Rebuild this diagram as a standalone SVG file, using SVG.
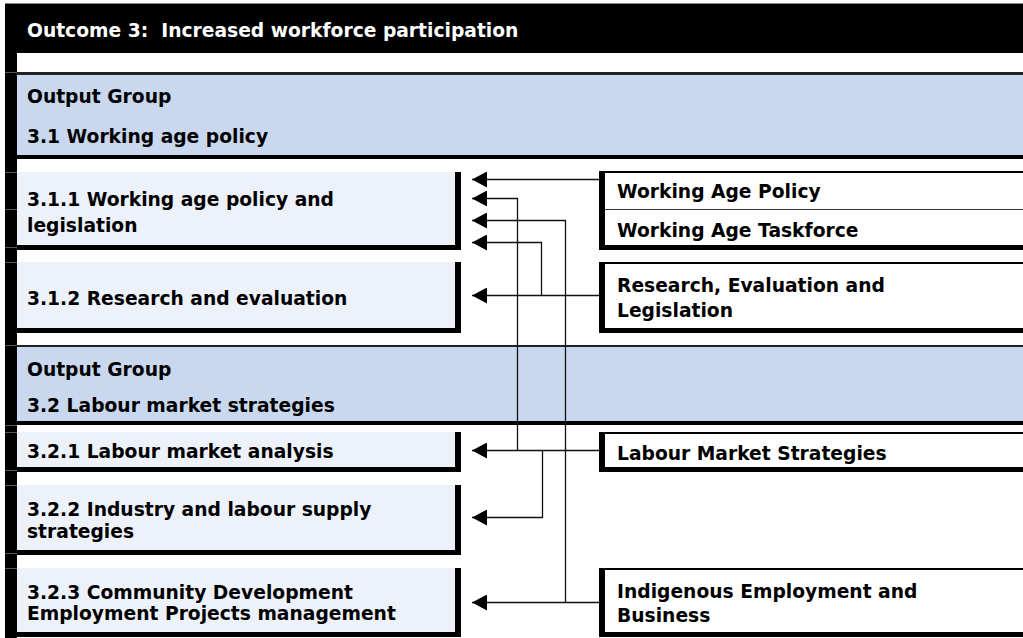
<svg xmlns="http://www.w3.org/2000/svg" width="1023" height="638" viewBox="0 0 1023 638">
  <style>
    text { font-family: "DejaVu Sans", Verdana, sans-serif; font-weight: bold; font-size: 18.7px; fill: #000; }
    .hdr text { fill: #fff; }
    .band { fill: #c9d8ee; }
    .cell { fill: #edf2fa; }
    .ink { fill: #000; }
    .rule { stroke: #555; stroke-width: 1; }
    .conn { fill: none; stroke: #111; stroke-width: 1.3; marker-end: url(#head); }
    .plain { fill: none; stroke: #111; stroke-width: 1.3; }
  </style>
  <defs>
    <marker id="head" viewBox="0 0 15 16" markerWidth="15" markerHeight="16" refX="15" refY="8" orient="auto" markerUnits="userSpaceOnUse">
      <path d="M0,0 L15,8 L0,16 z" fill="#000"/>
    </marker>
  </defs>

  <rect width="1023" height="638" fill="#fff"/>

  <!-- outer frame: top rule and left black bar with row ticks -->
  <g id="frame">
    <rect x="5" y="3" width="1018" height="1" fill="#888"/>
    <rect x="5" y="4" width="12" height="634" class="ink"/>
    <g class="rule">
      <line x1="5" y1="18.5" x2="12" y2="18.5"/>
      <line x1="5" y1="72.5" x2="17" y2="72.5"/>
      <line x1="5" y1="172.5" x2="17" y2="172.5"/>
      <line x1="5" y1="209.5" x2="17" y2="209.5"/>
      <line x1="5" y1="247.5" x2="17" y2="247.5"/>
      <line x1="5" y1="262.5" x2="17" y2="262.5"/>
      <line x1="5" y1="345.5" x2="17" y2="345.5"/>
      <line x1="5" y1="425.5" x2="17" y2="425.5"/>
      <line x1="5" y1="432.5" x2="17" y2="432.5"/>
      <line x1="5" y1="470.5" x2="17" y2="470.5"/>
      <line x1="5" y1="485.5" x2="17" y2="485.5"/>
      <line x1="5" y1="553.5" x2="17" y2="553.5"/>
      <line x1="5" y1="568.5" x2="17" y2="568.5"/>
    </g>
  </g>

  <!-- outcome header -->
  <g id="outcome" class="hdr">
    <rect x="5" y="4" width="1018" height="49" class="ink"/>
    <text x="27" y="37" xml:space="preserve">Outcome 3:  Increased workforce participation</text>
  </g>

  <!-- output group 3.1 -->
  <g id="group-3-1">
    <rect x="17" y="72" width="1006" height="3" fill="#222"/>
    <rect x="17" y="75" width="1006" height="80" class="band"/>
    <rect x="17" y="155" width="1006" height="4" class="ink"/>
    <text x="27" y="103">Output Group</text>
    <text x="27" y="143">3.1 Working age policy</text>
  </g>

  <g id="output-3-1-1">
    <rect x="17" y="172" width="438" height="73" class="cell"/>
    <rect x="455" y="172" width="6" height="78" class="ink"/>
    <rect x="17" y="245" width="444" height="5" class="ink"/>
    <text x="27" y="206">3.1.1 Working age policy and</text>
    <text x="27" y="232">legislation</text>
  </g>

  <g id="output-3-1-2">
    <rect x="17" y="262" width="438" height="66" class="cell"/>
    <rect x="455" y="262" width="6" height="71" class="ink"/>
    <rect x="17" y="328" width="444" height="5" class="ink"/>
    <text x="27" y="305">3.1.2 Research and evaluation</text>
  </g>

  <!-- output group 3.2 -->
  <g id="group-3-2">
    <rect x="17" y="345" width="1006" height="2" fill="#222"/>
    <rect x="17" y="347" width="1006" height="74" class="band"/>
    <rect x="17" y="421" width="1006" height="4" class="ink"/>
    <text x="27" y="376">Output Group</text>
    <text x="27" y="412">3.2 Labour market strategies</text>
  </g>

  <g id="output-3-2-1">
    <rect x="17" y="432" width="438" height="35" class="cell"/>
    <rect x="455" y="432" width="6" height="40" class="ink"/>
    <rect x="17" y="467" width="444" height="5" class="ink"/>
    <text x="27" y="458">3.2.1 Labour market analysis</text>
  </g>

  <g id="output-3-2-2">
    <rect x="17" y="485" width="438" height="65" class="cell"/>
    <rect x="455" y="485" width="6" height="70" class="ink"/>
    <rect x="17" y="550" width="444" height="5" class="ink"/>
    <text x="27" y="516">3.2.2 Industry and labour supply</text>
    <text x="27" y="538">strategies</text>
  </g>

  <g id="output-3-2-3">
    <rect x="17" y="568" width="438" height="64" class="cell"/>
    <rect x="455" y="568" width="6" height="69" class="ink"/>
    <rect x="17" y="632" width="444" height="5" class="ink"/>
    <text x="27" y="599">3.2.3 Community Development</text>
    <text x="27" y="620">Employment Projects management</text>
  </g>

  <!-- branches delivering the outputs -->
  <g id="branch-working-age">
    <rect x="599" y="171" width="424" height="2" class="ink"/>
    <rect x="599" y="209" width="424" height="1" fill="#333"/>
    <rect x="599" y="245" width="424" height="5" class="ink"/>
    <rect x="599" y="171" width="6" height="79" class="ink"/>
    <text x="617" y="198">Working Age Policy</text>
    <text x="617" y="237">Working Age Taskforce</text>
  </g>

  <g id="branch-research">
    <rect x="599" y="262" width="424" height="2" class="ink"/>
    <rect x="599" y="328" width="424" height="5" class="ink"/>
    <rect x="599" y="262" width="6" height="71" class="ink"/>
    <text x="617" y="292">Research, Evaluation and</text>
    <text x="617" y="317">Legislation</text>
  </g>

  <g id="branch-labour-market">
    <rect x="599" y="432" width="424" height="2" class="ink"/>
    <rect x="599" y="467" width="424" height="5" class="ink"/>
    <rect x="599" y="432" width="6" height="40" class="ink"/>
    <text x="617" y="460">Labour Market Strategies</text>
  </g>

  <g id="branch-indigenous">
    <rect x="599" y="568" width="424" height="2" class="ink"/>
    <rect x="599" y="632" width="424" height="5" class="ink"/>
    <rect x="599" y="568" width="6" height="69" class="ink"/>
    <text x="617" y="598">Indigenous Employment and</text>
    <text x="617" y="622">Business</text>
  </g>

  <!-- connectors -->
  <g id="connectors">
    <path class="conn" d="M599,179.5 H472"/>
    <path class="conn" d="M599,295.5 H472"/>
    <path class="conn" d="M541.5,295.5 V242.5 H472"/>
    <path class="conn" d="M599,450.5 H472"/>
    <path class="conn" d="M517.5,450.5 V198.5 H472"/>
    <path class="conn" d="M542.5,450.5 V517.5 H472"/>
    <path class="conn" d="M599,602.5 H472"/>
    <path class="conn" d="M565.5,602.5 V220.5 H472"/>
  </g>
</svg>
